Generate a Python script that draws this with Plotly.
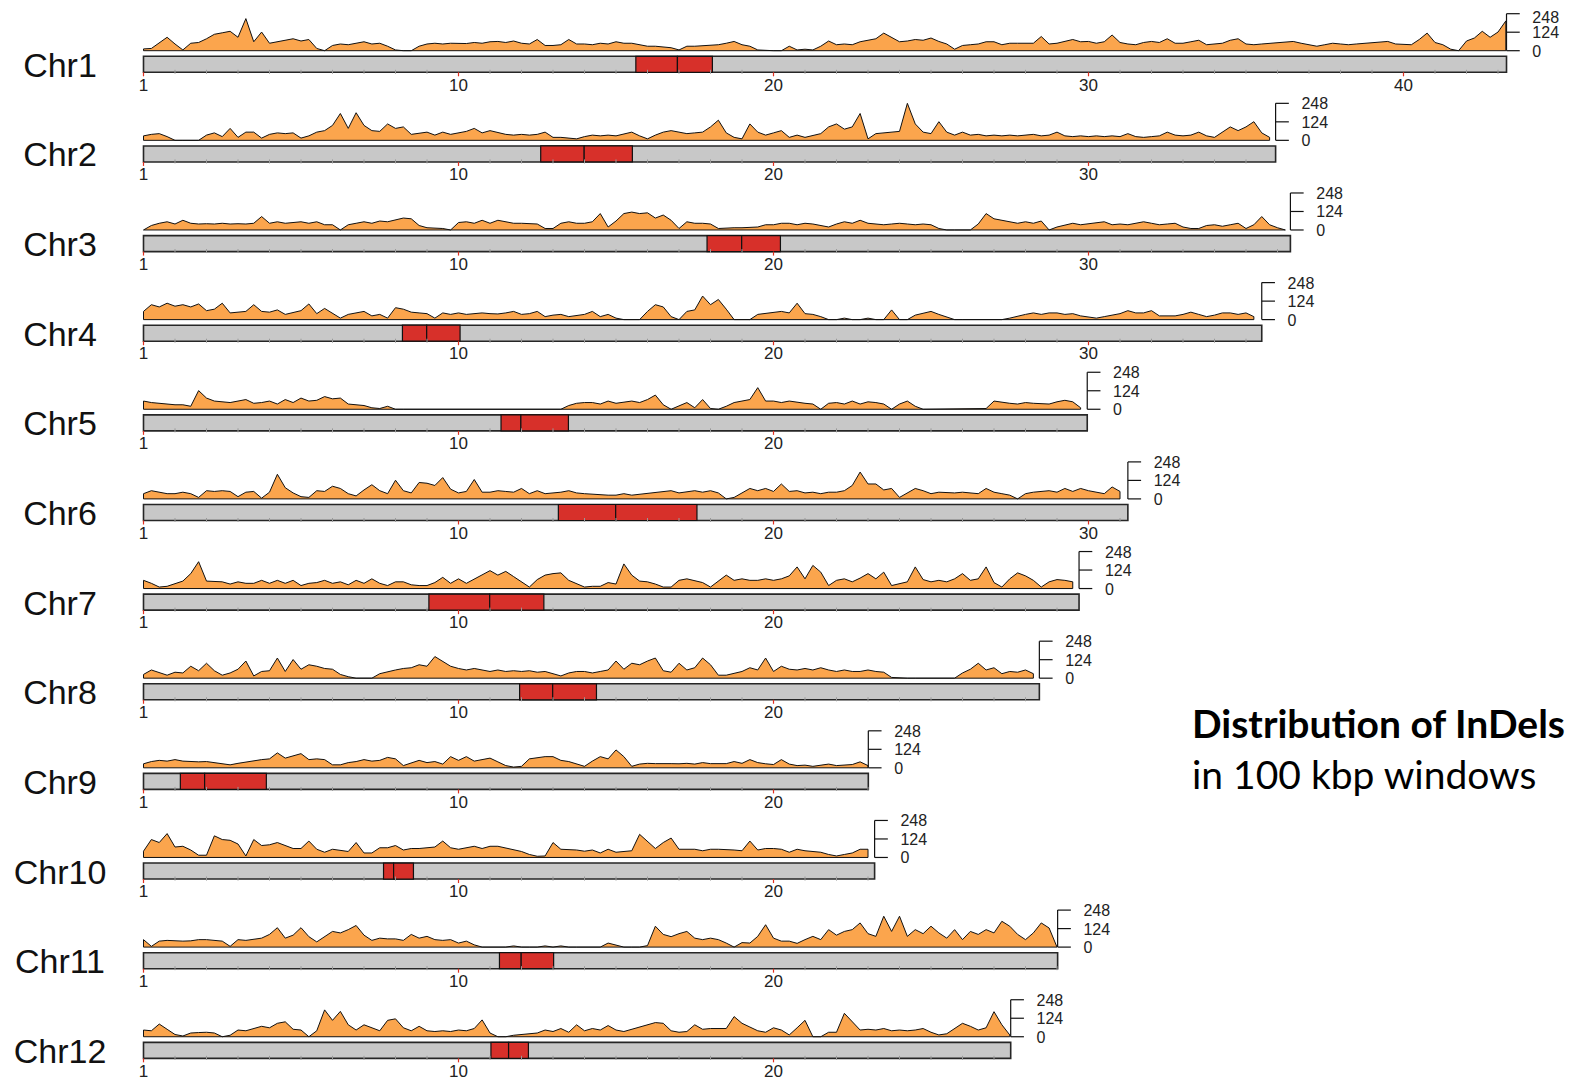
import numpy as np
import plotly.graph_objects as go

# ---------------- data ----------------
CHROMS = ["Chr1", "Chr2", "Chr3", "Chr4", "Chr5", "Chr6",
          "Chr7", "Chr8", "Chr9", "Chr10", "Chr11", "Chr12"]
LENGTHS_MB = [43.27, 35.94, 36.41, 35.50, 29.96, 31.25, 29.70, 28.44, 23.01, 23.21, 29.02, 27.53]
CEN_START_MB = [15.63, 12.61, 17.89, 8.22, 11.35, 13.17, 9.06, 11.94, 1.17, 7.62, 11.30, 11.03]
CEN_MID_MB = [16.95, 13.99, 18.99, 8.99, 11.98, 14.99, 10.99, 12.99, 1.94, 7.94, 11.99, 11.59]
CEN_END_MB = [18.06, 15.52, 20.22, 10.05, 13.49, 17.57, 12.71, 14.38, 3.90, 8.57, 13.02, 12.22]

WINDOW_STEP_MB = 0.25
SCALE_MAX = 248
SCALE_TICKS = [0, 124, 248]
POS_TICKS_MB = [0, 10, 20, 30, 40]
POS_TICK_LABELS = ["1", "10", "20", "30", "40"]

chr1_density = [12, 15, 55, 90, 45, 5, 50, 55, 80, 110, 120, 130, 90, 215, 60, 125,
                50, 60, 65, 80, 65, 75, 15, 0, 35, 45, 40, 50, 60, 45, 50, 30,
                5, 0, 0, 30, 45, 50, 45, 50, 50, 48, 55, 50, 60, 62, 55, 65,
                50, 45, 75, 35, 35, 40, 75, 45, 45, 40, 50, 45, 60, 50, 50, 40,
                30, 30, 25, 20, 5, 30, 30, 35, 35, 40, 50, 62, 40, 30, 5, 0,
                0, 0, 30, 5, 10, 5, 30, 65, 40, 45, 40, 60, 70, 80, 118, 90,
                60, 65, 75, 70, 85, 62, 45, 10, 35, 40, 45, 60, 60, 40, 50, 50,
                50, 50, 95, 45, 50, 60, 75, 60, 62, 50, 60, 105, 55, 45, 40, 55,
                62, 55, 80, 50, 50, 60, 70, 40, 45, 50, 70, 80, 45, 40, 45, 50,
                50, 55, 62, 50, 40, 30, 40, 50, 45, 40, 45, 50, 50, 55, 62, 45,
                45, 40, 75, 118, 55, 40, 10, 0, 65, 85, 130, 90, 125, 200]
chr2_density = [30, 40, 45, 25, 0, 0, 0, 0, 35, 50, 25, 80, 20, 55, 55, 15,
                40, 50, 45, 50, 15, 30, 55, 65, 100, 180, 80, 185, 100, 65, 60, 110,
                80, 90, 40, 50, 55, 35, 55, 40, 50, 60, 80, 50, 65, 50, 40, 35,
                40, 35, 40, 55, 20, 20, 15, 10, 25, 35, 30, 35, 30, 40, 55, 30,
                10, 35, 55, 65, 55, 45, 50, 55, 90, 135, 50, 20, 10, 110, 55, 35,
                50, 65, 20, 35, 20, 30, 45, 90, 110, 75, 90, 180, 10, 45, 50, 55,
                60, 248, 110, 55, 45, 125, 55, 35, 55, 35, 40, 30, 35, 30, 35, 30,
                35, 40, 30, 35, 55, 30, 25, 30, 25, 30, 25, 30, 25, 45, 25, 20,
                25, 30, 55, 35, 30, 35, 55, 30, 20, 55, 90, 65, 90, 125, 50, 20]
chr3_density = [0, 30, 45, 55, 40, 65, 45, 40, 42, 40, 45, 40, 42, 40, 45, 90,
                45, 55, 45, 50, 55, 45, 55, 35, 35, 0, 35, 45, 55, 45, 60, 55,
                65, 80, 75, 30, 15, 15, 10, 0, 50, 55, 45, 65, 45, 65, 55, 45,
                45, 45, 40, 10, 10, 45, 55, 45, 45, 55, 110, 20, 60, 110, 120, 110,
                115, 80, 100, 65, 10, 55, 45, 45, 40, 10, 15, 15, 15, 15, 20, 35,
                35, 45, 45, 35, 45, 40, 30, 20, 40, 55, 45, 65, 45, 40, 35, 40,
                45, 40, 35, 40, 35, 10, 0, 0, 0, 0, 40, 110, 75, 65, 55, 45,
                55, 45, 60, 0, 20, 35, 45, 35, 40, 45, 55, 35, 40, 35, 45, 55,
                45, 35, 40, 45, 20, 10, 10, 30, 35, 25, 35, 45, 10, 35, 90, 35,
                15, 5]
chr4_density = [55, 100, 85, 110, 90, 100, 85, 105, 60, 70, 110, 45, 50, 55, 100, 55,
                50, 65, 35, 45, 60, 105, 40, 75, 40, 10, 35, 45, 55, 25, 35, 10,
                80, 70, 50, 45, 40, 10, 45, 35, 45, 35, 40, 45, 40, 38, 45, 55,
                35, 40, 55, 20, 30, 35, 20, 30, 35, 55, 20, 35, 10, 0, 0, 0,
                55, 100, 85, 20, 0, 55, 65, 158, 100, 135, 70, 0, 0, 0, 35, 40,
                45, 55, 45, 110, 40, 35, 20, 0, 0, 10, 0, 0, 10, 0, 0, 65,
                0, 0, 30, 45, 55, 35, 20, 0, 0, 0, 0, 0, 0, 0, 10, 25,
                35, 45, 35, 45, 45, 35, 40, 25, 20, 10, 20, 30, 40, 60, 45, 45,
                60, 25, 25, 25, 35, 50, 35, 20, 30, 45, 45, 35, 45, 20]
chr5_density = [55, 45, 40, 30, 30, 30, 20, 125, 75, 55, 50, 45, 55, 65, 40, 45,
                55, 35, 65, 45, 75, 55, 60, 85, 70, 75, 35, 30, 25, 10, 5, 20,
                0, 0, 0, 0, 0, 0, 0, 0, 0, 0, 0, 0, 0, 0, 0, 0,
                0, 0, 0, 0, 0, 0, 25, 40, 45, 45, 35, 55, 40, 50, 55, 45,
                65, 95, 30, 0, 20, 45, 10, 65, 5, 0, 20, 45, 55, 65, 145, 55,
                55, 45, 55, 45, 40, 35, 0, 40, 45, 35, 55, 35, 50, 45, 35, 0,
                35, 55, 20, 0, 0, 0, 0, 0, 0, 0, 0, 5, 55, 45, 40, 35,
                45, 40, 38, 35, 50, 60, 50, 10]
chr6_density = [35, 55, 45, 35, 35, 45, 35, 10, 55, 50, 55, 50, 15, 45, 50, 5,
                45, 165, 75, 40, 15, 10, 55, 50, 85, 70, 35, 20, 60, 95, 55, 35,
                125, 55, 40, 110, 105, 90, 143, 65, 40, 50, 130, 45, 45, 55, 50, 45,
                70, 35, 55, 35, 40, 45, 55, 40, 35, 30, 25, 25, 25, 35, 25, 30,
                35, 40, 45, 55, 40, 50, 55, 45, 55, 40, 0, 10, 40, 70, 55, 70,
                50, 100, 50, 55, 40, 45, 35, 45, 45, 55, 90, 180, 100, 100, 60, 70,
                10, 40, 70, 55, 35, 45, 40, 40, 45, 40, 35, 70, 45, 35, 25, 0,
                35, 45, 50, 55, 45, 70, 50, 70, 55, 45, 35, 80, 50]
chr7_density = [55, 35, 10, 15, 30, 50, 100, 180, 50, 45, 45, 30, 45, 35, 35, 55,
                35, 55, 35, 55, 20, 35, 40, 55, 35, 45, 25, 55, 35, 65, 35, 20,
                45, 45, 25, 20, 20, 40, 75, 35, 65, 35, 65, 90, 120, 90, 115, 80,
                45, 10, 60, 90, 100, 105, 55, 30, 10, 15, 15, 40, 30, 165, 90, 50,
                45, 30, 10, 10, 55, 65, 55, 40, 10, 50, 90, 55, 65, 55, 55, 65,
                55, 65, 85, 145, 65, 155, 110, 20, 55, 65, 45, 70, 100, 65, 110, 20,
                30, 45, 145, 60, 45, 55, 45, 65, 100, 55, 65, 145, 40, 10, 65, 105,
                85, 55, 10, 45, 60, 55, 45]
chr8_density = [25, 55, 35, 20, 40, 35, 80, 50, 100, 50, 20, 35, 60, 115, 15, 45,
                50, 135, 45, 125, 60, 90, 80, 65, 60, 25, 10, 0, 0, 0, 30, 45,
                55, 65, 70, 90, 80, 145, 110, 80, 65, 55, 65, 55, 45, 55, 45, 50,
                45, 50, 40, 45, 30, 15, 35, 45, 45, 35, 45, 55, 115, 60, 100, 90,
                115, 135, 50, 40, 100, 55, 70, 135, 90, 20, 20, 35, 45, 70, 55, 135,
                45, 80, 60, 55, 65, 55, 70, 55, 45, 55, 45, 45, 55, 45, 40, 5,
                0, 0, 0, 0, 0, 0, 0, 0, 35, 60, 100, 55, 70, 30, 45, 40,
                55, 30]
chr9_density = [27, 42, 50, 45, 55, 45, 42, 40, 42, 35, 25, 20, 30, 40, 45, 55,
                60, 100, 65, 80, 95, 55, 60, 55, 20, 20, 35, 42, 55, 45, 50, 70,
                60, 15, 30, 50, 35, 42, 25, 75, 50, 75, 45, 55, 65, 40, 15, 5,
                10, 60, 70, 75, 75, 50, 42, 25, 10, 45, 75, 60, 120, 75, 10, 25,
                30, 28, 30, 28, 27, 30, 25, 35, 28, 30, 28, 42, 30, 55, 35, 27,
                22, 55, 25, 15, 18, 10, 20, 25, 15, 20, 22, 40, 15]
chr10_density = [42, 120, 100, 160, 70, 75, 50, 15, 15, 145, 120, 115, 90, 10, 120, 80,
                 85, 100, 80, 60, 60, 110, 55, 35, 55, 50, 40, 100, 30, 30, 65, 65,
                 80, 50, 60, 60, 65, 70, 110, 65, 55, 65, 75, 60, 75, 75, 65, 55,
                 40, 20, 8, 10, 100, 55, 55, 50, 42, 50, 30, 55, 35, 42, 45, 155,
                 110, 60, 100, 130, 55, 55, 55, 45, 55, 55, 55, 50, 45, 110, 50, 60,
                 60, 55, 35, 55, 45, 42, 35, 20, 10, 20, 30, 55, 55]
chr11_density = [50, 5, 40, 45, 40, 40, 42, 50, 50, 45, 40, 5, 50, 45, 50, 60,
                 85, 130, 60, 80, 130, 70, 35, 72, 105, 95, 117, 145, 80, 45, 60, 55,
                 55, 45, 85, 60, 72, 50, 45, 50, 27, 40, 15, 0, 0, 0, 0, 8,
                 0, 0, 0, 8, 0, 8, 0, 0, 0, 0, 0, 27, 15, 0, 0, 0,
                 10, 140, 85, 70, 90, 105, 60, 50, 60, 50, 27, 0, 30, 27, 72, 150,
                 60, 40, 40, 25, 50, 72, 50, 117, 80, 105, 117, 162, 90, 72, 207, 105,
                 207, 72, 117, 90, 140, 95, 60, 117, 50, 105, 85, 117, 95, 173, 140, 85,
                 50, 95, 162, 128, 0]
chr12_density = [45, 40, 85, 50, 15, 5, 25, 28, 30, 25, 0, 10, 45, 40, 55, 70,
                 60, 90, 100, 50, 45, 0, 40, 180, 110, 170, 80, 45, 80, 60, 40, 110,
                 120, 60, 40, 70, 40, 35, 40, 35, 45, 40, 55, 113, 25, 0, 0, 10,
                 15, 20, 25, 45, 35, 55, 30, 80, 40, 55, 45, 75, 45, 35, 50, 70,
                 80, 95, 90, 40, 30, 35, 80, 50, 55, 55, 55, 135, 90, 65, 40, 30,
                 60, 45, 12, 60, 110, 0, 0, 30, 30, 157, 100, 45, 50, 45, 55, 40,
                 45, 40, 45, 55, 30, 12, 20, 55, 90, 70, 45, 60, 168, 80, 12]

DENSITIES = [chr1_density, chr2_density, chr3_density, chr4_density, chr5_density,
             chr6_density, chr7_density, chr8_density, chr9_density, chr10_density,
             chr11_density, chr12_density]

# ---------------- layout geometry (page pixels) ----------------
W, H = 1586, 1081
PAGE_OFFSET = 8          # default body margin of the html page
PX_PER_MB = 31.5
X0_PX = 143.5
ROW0_BAR_TOP = 56.3
ROW_STEP = 89.64
BAR_H = 16.0
GAP = 5.6
TRACK_H = 37.0
MIN_LABEL_Y = PAGE_OFFSET + 11   # keep labels fully inside the figure

ORANGE = "#FBA54D"
RED = "#D7302A"
GRAY = "#C8C8C8"
DARK = "#262626"

fig = go.Figure()
shapes = []

minor_x, minor_y = [], []
major_x, major_y = [], []
scale_x, scale_y = [], []
lab_x, lab_y, lab_t = [], [], []
sc_x, sc_y, sc_t = [], [], []

for i, name in enumerate(CHROMS):
    L = LENGTHS_MB[i]
    bar_top = ROW0_BAR_TOP + ROW_STEP * i
    bar_bot = bar_top + BAR_H
    base = bar_top - GAP
    k = TRACK_H / SCALE_MAX

    vals = np.array(DENSITIES[i], dtype=float)
    pos = np.arange(len(vals)) * WINDOW_STEP_MB
    px = np.concatenate([[pos[0]], pos, [pos[-1], pos[0]]])
    py = np.concatenate([[base], base - vals * k, [base, base]])
    fig.add_trace(go.Scatter(x=px, y=py, mode="lines", fill="toself",
                             fillcolor=ORANGE, line=dict(color="#111111", width=1.0),
                             hoverinfo="skip"))

    # ideogram bar
    shapes.append(dict(type="rect", xref="x", yref="y", x0=0, x1=L, y0=bar_top, y1=bar_bot,
                       fillcolor=GRAY, line=dict(color=DARK, width=1.6), layer="below"))
    shapes.append(dict(type="rect", xref="x", yref="y", x0=CEN_START_MB[i], x1=CEN_MID_MB[i],
                       y0=bar_top, y1=bar_bot, fillcolor=RED, line=dict(color="#111111", width=1.2),
                       layer="below"))
    shapes.append(dict(type="rect", xref="x", yref="y", x0=CEN_MID_MB[i], x1=CEN_END_MB[i],
                       y0=bar_top, y1=bar_bot, fillcolor=RED, line=dict(color="#111111", width=1.2),
                       layer="below"))

    # minor ticks every Mb
    for m in range(1, int(np.floor(L)) + 1):
        if m % 10 == 0:
            continue
        minor_x += [m, m, None]
        minor_y += [bar_bot - 2.5, bar_bot + 1.5, None]
    for t, tl in zip(POS_TICKS_MB, POS_TICK_LABELS):
        if t <= L:
            major_x += [t, t, None]
            major_y += [bar_bot, bar_bot + 4, None]
            lab_x.append(t)
            lab_y.append(bar_bot + 14)
            lab_t.append(tl)

    # density scale
    top = base - SCALE_MAX * k
    scale_x += [L, L, None]
    scale_y += [base, top, None]
    for s in SCALE_TICKS:
        yy = base - s * k
        scale_x += [L, L + 0.42, None]
        scale_y += [yy, yy, None]
        sc_x.append(L + 0.82)
        sc_y.append(max(yy + 2, MIN_LABEL_Y))
        sc_t.append(str(s))

fig.add_trace(go.Scatter(x=minor_x, y=minor_y, mode="lines",
                         line=dict(color="#9a9a9a", width=1), hoverinfo="skip"))
fig.add_trace(go.Scatter(x=major_x, y=major_y, mode="lines",
                         line=dict(color="#e03020", width=1.2), hoverinfo="skip"))
fig.add_trace(go.Scatter(x=scale_x, y=scale_y, mode="lines",
                         line=dict(color="#111111", width=1.2), hoverinfo="skip"))
fig.add_trace(go.Scatter(x=lab_x, y=lab_y, mode="text", text=lab_t,
                         textposition="middle center", cliponaxis=False,
                         textfont=dict(family="Liberation Sans", size=17, color="#222222"),
                         hoverinfo="skip"))
fig.add_trace(go.Scatter(x=sc_x, y=sc_y, mode="text", text=sc_t,
                         textposition="middle right", cliponaxis=False,
                         textfont=dict(family="Liberation Sans", size=16, color="#222222"),
                         hoverinfo="skip"))

# chromosome names
name_x = (60 - X0_PX) / PX_PER_MB
fig.add_trace(go.Scatter(
    x=[name_x] * len(CHROMS),
    y=[ROW0_BAR_TOP + ROW_STEP * i + BAR_H / 2 + 4 for i in range(len(CHROMS))],
    mode="text", text=CHROMS, textposition="middle center",
    textfont=dict(family="Liberation Sans", size=34, color="#111111"), hoverinfo="skip"))

title_x = (1190 - X0_PX) / PX_PER_MB
annotations = [
    dict(x=title_x, y=723, xref="x", yref="y", text="<b>Distribution of InDels</b>",
         showarrow=False, xanchor="left", yanchor="middle",
         font=dict(family="Lato", size=39, color="#000000")),
    dict(x=title_x, y=774, xref="x", yref="y", text="in 100 kbp windows",
         showarrow=False, xanchor="left", yanchor="middle",
         font=dict(family="Lato", size=39, color="#000000")),
]

fig.update_layout(
    width=W, height=H, margin=dict(l=0, r=0, t=0, b=0),
    paper_bgcolor="white", plot_bgcolor="white", showlegend=False,
    xaxis=dict(range=[(PAGE_OFFSET - X0_PX) / PX_PER_MB, (PAGE_OFFSET + W - X0_PX) / PX_PER_MB],
               visible=False, fixedrange=True),
    yaxis=dict(range=[H + PAGE_OFFSET, PAGE_OFFSET], visible=False, fixedrange=True),
    shapes=shapes, annotations=annotations,
)

fig.write_html("out.html")
